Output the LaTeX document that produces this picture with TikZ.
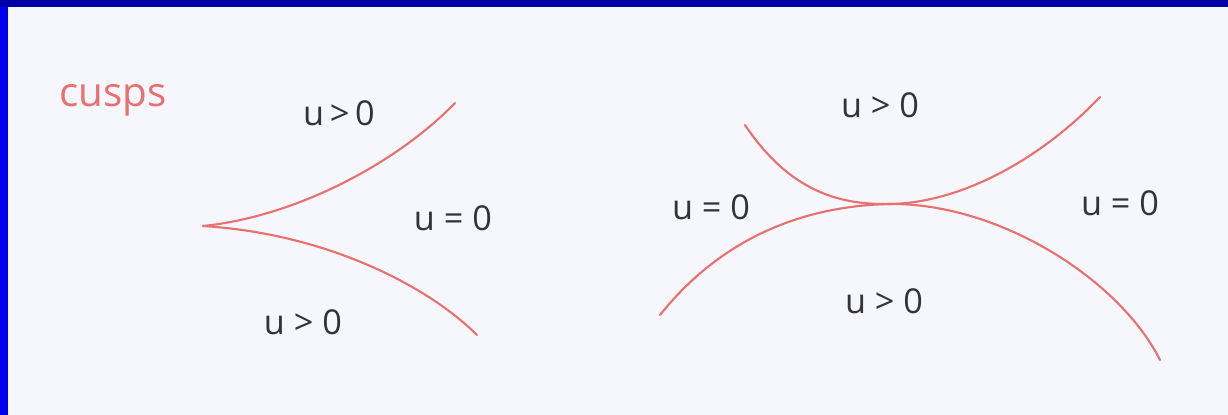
\documentclass[tikz,border=0pt]{standalone}
\usepackage{fontspec}
\setmainfont{Open Sans}
\usepackage{xcolor}
\usepackage{tikz}
\usetikzlibrary{positioning,calc}

\definecolor{paper}{HTML}{F6F6FD}
\definecolor{topblue}{HTML}{0000A8}
\definecolor{sideblue}{HTML}{0000F0}
\definecolor{pen}{HTML}{E8706E}
\definecolor{pencil}{HTML}{333338}

\begin{document}
\begin{tikzpicture}[
        x=0.02cm, y=-0.02cm,
        curve/.style={draw=pen, line width=1.2pt, line cap=round},
        region/.style={font=\fontsize{19.5}{22}\selectfont, text=pencil, inner sep=0pt},
        heading/.style={font=\fontsize{23}{26}\selectfont, text=pen, inner sep=0pt}
    ]

    % Paper and frame
    \fill[paper] (0,0) rectangle (1228,415);
    \useasboundingbox (0,0) rectangle (1228,415);
    \fill[sideblue] (0,0) rectangle (8,415);
    \fill[topblue] (0,0) rectangle (1228,7);

    % Title
    \node[heading] (title) at (113,100) {cusps};

    % Left sketch: ordinary cusp
    \coordinate (cusp) at (203,226);
    \coordinate (upend) at (455,103);
    \coordinate (lowend) at (477,335);
    \draw[curve] (cusp) .. controls (300,216) and (400,160) .. (upend);
    \draw[curve] (cusp) .. controls (330,234) and (430,288) .. (lowend);

    \node[region] (lpos1) at (339,113) {u\,>\,0};
    \node[region] (lzero) at (453,218) {u = 0};
    \node[region] (lpos2) at (303,322) {u > 0};

    % Right sketch: tacnode
    \coordinate (tac) at (890,204);
    \coordinate (ua) at (745,125);
    \coordinate (ub) at (1100,97);
    \coordinate (la) at (660,315);
    \coordinate (lb) at (1160,360);
    \draw[curve] (ua) .. controls (790,192) and (840,205) .. (tac)
                      .. controls (960,203) and (1040,160) .. (ub);
    \draw[curve] (la) .. controls (720,240) and (800,206) .. (tac)
                      .. controls (1000,203) and (1120,280) .. (lb);

    \node[region] (rpos1) at (880,105) {u > 0};
    \node[region] (rzero1) at (711,207) {u = 0};
    \node[region] (rzero2) at (1120,203) {u = 0};
    \node[region] (rpos2) at (884,301) {u > 0};

\end{tikzpicture}
\end{document}
